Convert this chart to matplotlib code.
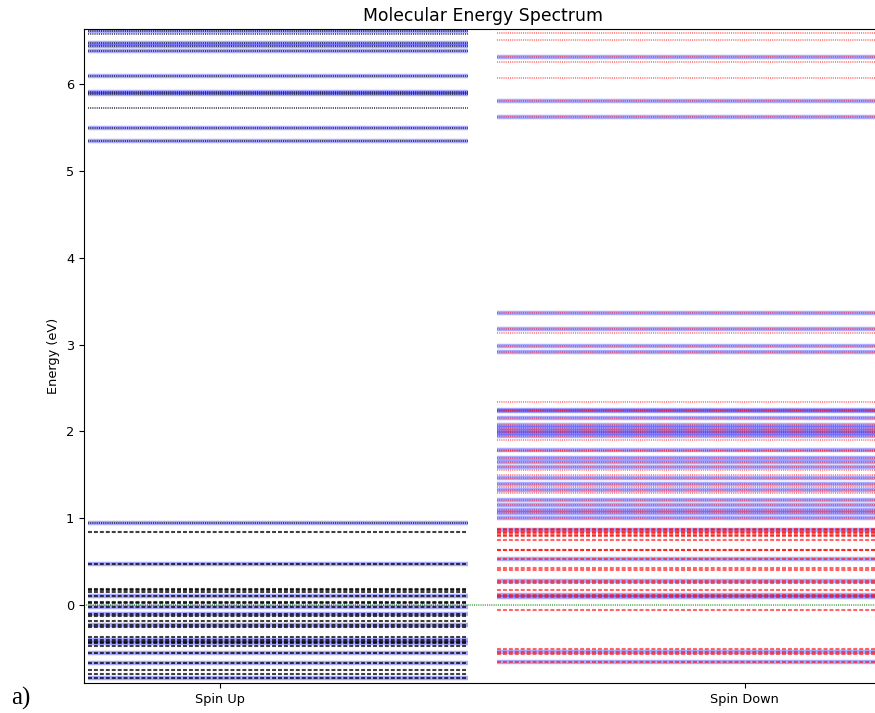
import matplotlib
matplotlib.use("Agg")
import matplotlib.pyplot as plt

# Spin up eigenvalues (eV), split by occupation
up_empty = [6.61, 6.58, 6.47, 6.44, 6.38, 6.09, 5.91, 5.89, 5.73, 5.49, 5.34, 0.95]
up_filled = [0.84, 0.47, 0.19, 0.17, 0.15, 0.10, 0.04, 0.02, -0.02, -0.10, -0.13,
             -0.18, -0.23, -0.25, -0.37, -0.40, -0.42, -0.44, -0.47, -0.55, -0.67,
             -0.75, -0.79, -0.84]
# Spin up levels with strong weight on the selected fragment
up_weighted = [6.61, 6.47, 6.44, 6.38, 6.09, 5.91, 5.89, 5.49, 5.34, 0.95, 0.47,
               0.10, -0.02, -0.10, -0.23, -0.40, -0.44, -0.55, -0.67, -0.84]

# Spin down eigenvalues (eV)
down_empty = [6.59, 6.51, 6.31, 6.25, 6.07, 5.81, 5.62, 3.37, 3.175, 3.136, 2.99,
              2.91, 2.34, 2.25, 2.23, 2.15, 2.07, 2.04, 2.01, 1.98, 1.95, 1.90,
              1.79, 1.77, 1.70, 1.65, 1.59, 1.555, 1.50, 1.466, 1.40, 1.36, 1.32,
              1.29, 1.21, 1.15, 1.10, 1.06, 1.00]
down_filled = [0.875, 0.86, 0.845, 0.83, 0.81, 0.795, 0.75, 0.64, 0.635, 0.53,
               0.43, 0.40, 0.28, 0.25, 0.17, 0.12, 0.09, -0.06, -0.51, -0.54,
               -0.565, -0.65]
down_weighted = [6.31, 5.81, 5.62, 3.37, 3.175, 2.99, 2.91, 2.25, 2.23, 2.15, 2.07,
                 2.04, 2.01, 1.98, 1.95, 1.79, 1.70, 1.65, 1.59, 1.466, 1.40, 1.32,
                 1.21, 1.15, 1.10, 1.06, 1.00, 0.86, 0.53, 0.28, 0.12, 0.09, -0.54,
                 -0.65]

fermi = 0.0
columns = ["Spin Up", "Spin Down"]
col_ticks = [0.17, 0.828]
up_span = (0.005, 0.481)
down_span = (0.517, 1.0)

dashed = (0, (1.9, 0.95))
dotted = (0, (0.6, 0.6))
lw_dot = 1.3
lw_dash = 1.5

fig = plt.figure(figsize=(8.75, 7.13), dpi=100)
ax = fig.add_axes([0.096, 0.042, 0.912, 0.917])

ax.axhline(fermi, color="green", linestyle=dotted, lw=lw_dot, alpha=0.6, zorder=1)

# blue bands underneath the weighted levels
ax.hlines(up_weighted, *up_span, colors="blue", lw=3.2, alpha=0.33, zorder=2)
ax.hlines(down_weighted, *down_span, colors="blue", lw=3.2, alpha=0.33, zorder=2)

ax.hlines(up_empty, *up_span, colors="black", linestyles=[dotted], lw=lw_dot, alpha=0.7, zorder=3)
ax.hlines(up_filled, *up_span, colors="black", linestyles=[dashed], lw=lw_dash, alpha=0.75, zorder=3)
ax.hlines(down_empty, *down_span, colors="red", linestyles=[dotted], lw=lw_dot, alpha=0.5, zorder=3)
ax.hlines(down_filled, *down_span, colors="red", linestyles=[dashed], lw=lw_dash, alpha=0.6, zorder=3)

ax.set_xlim(0, 1)
ax.set_ylim(-0.898, 6.633)
ax.set_xticks(col_ticks)
ax.set_xticklabels(columns)
ax.set_yticks(range(0, 7))
ax.tick_params(labelsize=9.3)
ax.set_ylabel("Energy (eV)", fontsize=9.3)
ax.set_title("Molecular Energy Spectrum", fontsize=12.4)

fig.text(0.013, 0.012, "a)", fontsize=18, family="Liberation Serif")

fig.savefig("out.png", dpi=100)
